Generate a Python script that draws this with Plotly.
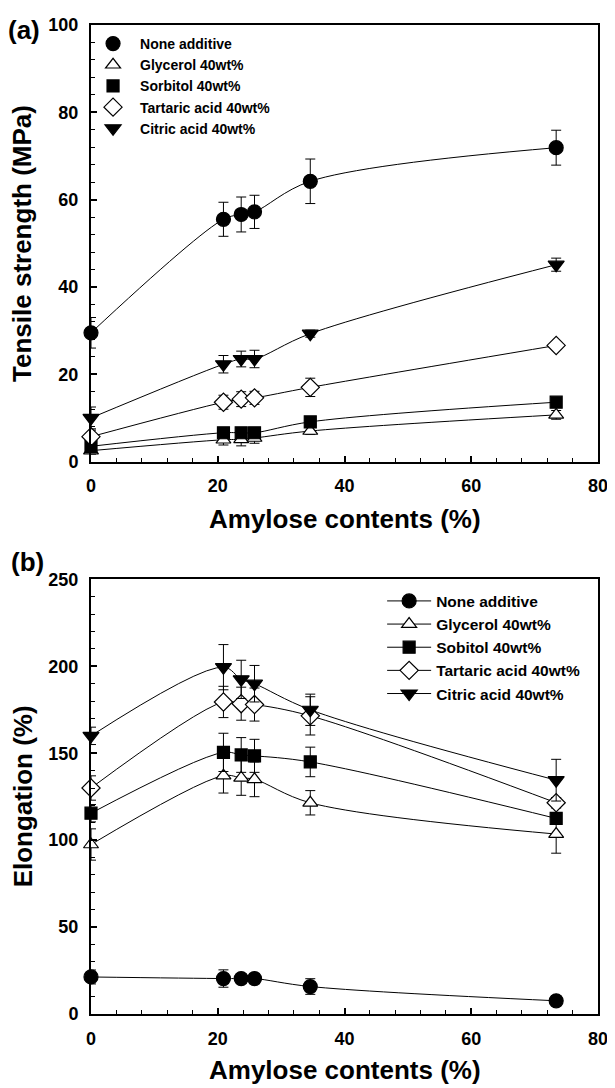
import plotly.graph_objects as go

# ---------------- data ----------------
amylose = [0, 20.9, 23.7, 25.8, 34.6, 73.4]

series_names_a = ["None additive", "Glycerol 40wt%", "Sorbitol 40wt%", "Tartaric acid 40wt%", "Citric acid 40wt%"]
series_names_b = ["None additive", "Glycerol 40wt%", "Sobitol 40wt%", "Tartaric acid 40wt%", "Citric acid 40wt%"]

# (a) Tensile strength (MPa)
ts_none = [29.5, 55.5, 56.6, 57.2, 64.2, 71.9]
ts_none_err = [3.5, 3.9, 4.0, 3.8, 5.1, 4.0]
ts_glycerol = [2.5, 5.0, 5.1, 5.4, 7.0, 10.7]
ts_glycerol_err = [0.8, 1.2, 1.5, 1.2, 0.8, 1.0]
ts_sorbitol = [3.5, 6.6, 6.6, 6.6, 9.1, 13.6]
ts_sorbitol_err = [1.2, 0.8, 0.8, 0.8, 0.8, 0.8]
ts_tartaric = [5.7, 13.6, 14.3, 14.6, 17.0, 26.6]
ts_tartaric_err = [1.5, 1.6, 1.7, 1.5, 2.1, 0.8]
ts_citric = [10.0, 22.3, 23.5, 23.5, 29.3, 45.1]
ts_citric_err = [2.5, 2.0, 1.8, 2.0, 0.8, 1.5]

# (b) Elongation (%)
el_none = [21.3, 20.4, 20.4, 20.4, 15.8, 7.6]
el_none_err = [4.0, 5.0, 2.5, 3.0, 4.5, 3.0]
el_glycerol = [97.5, 137.1, 135.8, 135.0, 121.5, 103.5]
el_glycerol_err = [9.0, 10.0, 10.0, 10.0, 7.0, 11.0]
el_sorbitol = [115.5, 150.5, 149.0, 148.5, 145.0, 112.5]
el_sorbitol_err = [5.0, 11.0, 10.0, 9.5, 8.5, 3.0]
el_tartaric = [130.0, 179.5, 178.5, 178.0, 171.5, 121.5]
el_tartaric_err = [7.0, 9.0, 9.5, 9.5, 11.0, 3.0]
el_citric = [160.0, 199.5, 192.5, 190.0, 175.0, 134.5]
el_citric_err = [5.0, 13.0, 11.0, 10.5, 9.0, 12.0]

# ---------------- styles ----------------
symbols = ["circle", "triangle-up", "square", "diamond", "triangle-down"]
fills = ["black", "white", "black", "white", "black"]
sizes = [14, 13, 12, 14, 14]

ts_vals = [ts_none, ts_glycerol, ts_sorbitol, ts_tartaric, ts_citric]
ts_errs = [ts_none_err, ts_glycerol_err, ts_sorbitol_err, ts_tartaric_err, ts_citric_err]
el_vals = [el_none, el_glycerol, el_sorbitol, el_tartaric, el_citric]
el_errs = [el_none_err, el_glycerol_err, el_sorbitol_err, el_tartaric_err, el_citric_err]

FONT = "Arial, Liberation Sans, Helvetica, sans-serif"

fig = go.Figure()

# panel (a): lines (no legend) + markers (legend, markers only)
for i in range(5):
    fig.add_trace(go.Scatter(
        x=amylose, y=ts_vals[i], mode="lines",
        line=dict(color="black", width=1, shape="spline", smoothing=1.0),
        showlegend=False, hoverinfo="skip", xaxis="x", yaxis="y"))
for i in range(5):
    fig.add_trace(go.Scatter(
        x=amylose, y=ts_vals[i], mode="markers", name=series_names_a[i],
        marker=dict(symbol=symbols[i], size=sizes[i], color=fills[i],
                    line=dict(color="black", width=1.2)),
        error_y=dict(type="data", array=ts_errs[i], color="black", thickness=1, width=5),
        cliponaxis=False, legend="legend", xaxis="x", yaxis="y"))

# panel (b): lines + markers
for i in range(5):
    fig.add_trace(go.Scatter(
        x=amylose, y=el_vals[i], mode="lines+markers", name=series_names_b[i],
        line=dict(color="black", width=1, shape="spline", smoothing=1.0),
        marker=dict(symbol=symbols[i], size=sizes[i], color=fills[i],
                    line=dict(color="black", width=1.2)),
        error_y=dict(type="data", array=el_errs[i], color="black", thickness=1, width=5),
        cliponaxis=False, legend="legend2", xaxis="x2", yaxis="y2"))

# page has an 8px body margin: figure size/margins compensate for it
W, H = 607, 1080
mt, mb, ml, mr = 7, 74, 83, 12
ph = H - mt - mb
def py(p):   # page pixel y -> paper coordinate
    return 1 - ((p - 8) - mt) / ph
def px(p):   # page pixel x -> paper coordinate
    return ((p - 8) - ml) / (W - ml - mr)

axis_common = dict(
    showline=True, linecolor="black", linewidth=2, mirror=True,
    ticks="inside", ticklen=6, tickwidth=1.5, tickcolor="black",
    showgrid=False, zeroline=False,
    tickfont=dict(family=FONT, size=18, color="black", weight="bold"),
    ticklabelstandoff=7,
)
minor_x = dict(dtick=4, ticks="inside", ticklen=4, tickcolor="black", tickwidth=1)

fig.update_layout(
    width=W, height=H,
    margin=dict(l=ml, r=mr, t=mt, b=mb),
    paper_bgcolor="white", plot_bgcolor="white",
    font=dict(family=FONT, color="black", weight="bold"),
    xaxis=dict(domain=[0, 1], range=[0, 80], dtick=20, anchor="y", minor=minor_x, **axis_common),
    yaxis=dict(domain=[(1014 - 456) / ph, 1], range=[0, 100], dtick=20, anchor="x",
               minor=dict(dtick=4, ticks="inside", ticklen=4, tickcolor="black", tickwidth=1),
               **axis_common),
    xaxis2=dict(domain=[0, 1], range=[0, 80], dtick=20, anchor="y2", minor=minor_x, **axis_common),
    yaxis2=dict(domain=[0, (1014 - 575) / ph], range=[0, 250], dtick=50, anchor="x2",
                minor=dict(dtick=10, ticks="inside", ticklen=4, tickcolor="black", tickwidth=1),
                **axis_common),
    legend=dict(x=px(86), y=py(18), xanchor="left", yanchor="top",
                bgcolor="rgba(0,0,0,0)", borderwidth=0, itemwidth=44,
                font=dict(family=FONT, size=14, color="black", weight="bold")),
    legend2=dict(x=px(385), y=py(580), xanchor="left", yanchor="top",
                 bgcolor="rgba(0,0,0,0)", borderwidth=0, itemwidth=44,
                 font=dict(family=FONT, size=15.5, color="black", weight="bold")),
    showlegend=True,
)

ann_font = dict(family=FONT, size=26, color="black", weight="bold")
annotations = [
    dict(text="Tensile strength (MPa)", x=px(22), y=(py(15) + py(456)) / 2, textangle=-90),
    dict(text="Elongation (%)", x=px(22), y=(py(575) + py(1014)) / 2, textangle=-90),
    dict(text="Amylose contents (%)", x=0.5, y=py(514)),
    dict(text="Amylose contents (%)", x=0.5, y=py(1071)),
    dict(text="(a)", x=px(23), y=py(20)),
    dict(text="(b)", x=px(27), y=py(557)),
]
for a in annotations:
    a.update(xref="paper", yref="paper", xanchor="center", yanchor="middle",
             showarrow=False, font=ann_font)
fig.update_layout(annotations=annotations)

fig.write_html("out.html")
